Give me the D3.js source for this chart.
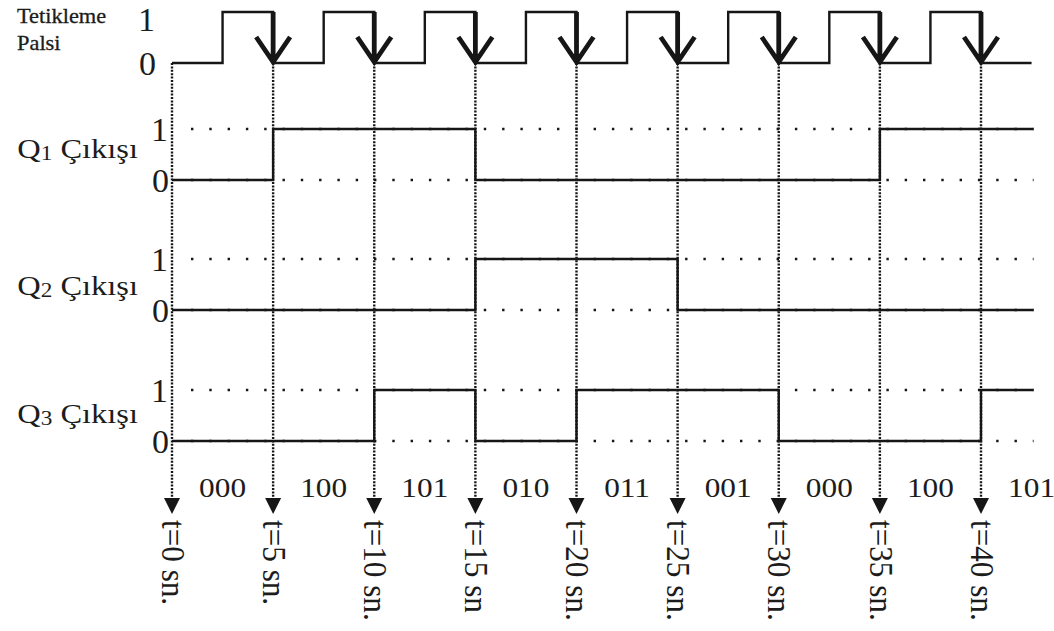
<!DOCTYPE html>
<html>
<head>
<meta charset="utf-8">
<script src="https://cdn.jsdelivr.net/npm/d3@7"></script>
<style>
  html, body { margin: 0; padding: 0; background: #fff; }
  text { font-family: "Liberation Serif", "DejaVu Serif", serif; fill: #1c1c1c; }
</style>
</head>
<body>
<div id="vis"></div>
<script>
// timing values (seconds)
var ticks = [0, 5, 10, 15, 20, 25, 30, 35, 40];
var tickLabels = ["t=0 sn.", "t=5 sn.", "t=10 sn.", "t=15 sn", "t=20 sn.", "t=25 sn.", "t=30 sn.", "t=35 sn.", "t=40 sn."];
var endTime = 42.6;

// trigger pulse, step points
var clockT = [0, 2.5, 5, 7.5, 10, 12.5, 15, 17.5, 20, 22.5, 25, 27.5, 30, 32.5, 35, 37.5, 40, 42.5];
var clockV = [0, 1, 0, 1, 0, 1, 0, 1, 0, 1, 0, 1, 0, 1, 0, 1, 0, 0];
var fallEdges = [5, 10, 15, 20, 25, 30, 35, 40];

// counter state in each 5 s interval (Q1 Q2 Q3)
var states = ["000", "100", "101", "010", "011", "001", "000", "100", "101"];
var stateMid = [2.5, 7.5, 12.5, 17.5, 22.5, 27.5, 32.5, 37.5, 42.5];

var rowNames = ["1", "2", "3"];

var width = 1054, height = 631;
var svg = d3.select("#vis").append("svg")
  .attr("width", width).attr("height", height);

var x = d3.scaleLinear().domain([0, 40]).range([172, 981]);

// layout of rows (pixel positions)
var clockY = d3.scaleLinear().domain([0, 1]).range([63, 12]);
var rowLo = [180, 310, 441];
var rowHi = [129, 259, 390];
var rowLabelShift = [-7, 0, -3];
var arrowEnd = 498;
var stretch = 1.16;

var ink = "#161616";
var step = d3.line().curve(d3.curveStepAfter);

// vertical dotted guides with arrowheads
var guides = svg.append("g");
guides.selectAll("line").data(ticks).enter().append("line")
  .attr("x1", function(d){ return x(d); })
  .attr("x2", function(d){ return x(d); })
  .attr("y1", clockY(0))
  .attr("y2", arrowEnd)
  .attr("stroke", ink)
  .attr("stroke-width", 2.4)
  .attr("stroke-dasharray", "2,1.4");
guides.selectAll("path").data(ticks).enter().append("path")
  .attr("d", function(d){
    var px = x(d);
    return "M" + (px - 8) + "," + arrowEnd + "L" + (px + 8) + "," + arrowEnd + "L" + px + "," + (arrowEnd + 16) + "Z";
  })
  .attr("fill", ink);

// horizontal dotted level guides
rowLo.forEach(function(lo, i){
  [rowHi[i], lo].forEach(function(yy){
    svg.append("line")
      .attr("x1", x(0) + 19).attr("x2", x(endTime))
      .attr("y1", yy).attr("y2", yy)
      .attr("stroke", ink)
      .attr("stroke-width", 2.4)
      .attr("stroke-dasharray", "2.4,15.9");
  });
});

// trigger pulse
var clockPts = clockT.map(function(t, i){ return [x(t), clockY(clockV[i])]; });
svg.append("path")
  .attr("d", step(clockPts))
  .attr("fill", "none")
  .attr("stroke", ink)
  .attr("stroke-width", 2.4);

// falling edge arrows
var arrows = svg.append("g")
  .attr("fill", "none")
  .attr("stroke", ink)
  .attr("stroke-width", 4.8);
arrows.selectAll("path").data(fallEdges).enter().append("path")
  .attr("d", function(d){
    var px = x(d), top = clockY(1), bot = clockY(0);
    return "M" + px + "," + top + "L" + px + "," + (bot - 3) +
      "M" + (px - 17) + "," + (bot - 26) + "L" + px + "," + (bot - 1) + "L" + (px + 17) + "," + (bot - 26);
  })
  .attr("stroke-linejoin", "miter");

// Q outputs
rowNames.forEach(function(name, r){
  var yy = d3.scaleLinear().domain([0, 1]).range([rowLo[r], rowHi[r]]);
  var pts = states.map(function(s, i){ return [x(ticks[i]), yy(+s[r])]; });
  pts.push([x(endTime), yy(+states[states.length - 1][r])]);
  svg.append("path")
    .attr("d", step(pts))
    .attr("fill", "none")
    .attr("stroke", ink)
    .attr("stroke-width", 2.4);

  var mid = (rowLo[r] + rowHi[r]) / 2 + rowLabelShift[r];
  var lab = svg.append("text")
    .attr("text-anchor", "end")
    .attr("font-size", 28)
    .attr("transform", "translate(138," + (mid + 10) + ") scale(" + stretch + ",1)");
  lab.append("tspan").text("Q");
  lab.append("tspan").attr("font-size", 20).attr("dy", 2).text(name);
  lab.append("tspan").attr("dy", -2).text(" Çıkışı");

  svg.append("text").attr("x", 168).attr("y", yy(1) + 12)
    .attr("text-anchor", "end").attr("font-size", 34).text("1");
  svg.append("text").attr("x", 169).attr("y", yy(0) + 12)
    .attr("text-anchor", "end").attr("font-size", 34).text("0");
});

// trigger labels
svg.append("text").attr("x", 155).attr("y", clockY(1) + 19)
  .attr("text-anchor", "end").attr("font-size", 34).text("1");
svg.append("text").attr("x", 156).attr("y", clockY(0) + 12)
  .attr("text-anchor", "end").attr("font-size", 34).text("0");
var tl = svg.append("text")
  .attr("font-size", 20)
  .attr("stroke", "#1c1c1c")
  .attr("stroke-width", 0.3)
  .attr("transform", "translate(17,0) scale(1.12,1)");
tl.append("tspan").attr("x", 0).attr("y", 23).text("Tetikleme");
tl.append("tspan").attr("x", 0).attr("y", 50).text("Palsi");

// state codes
svg.append("g").selectAll("text").data(states).enter().append("text")
  .attr("text-anchor", "middle")
  .attr("font-size", 27)
  .attr("transform", function(d, i){
    return "translate(" + x(stateMid[i]) + ",497) scale(" + stretch + ",1)";
  })
  .text(function(d){ return d; });

// time labels, rotated
svg.append("g").selectAll("text").data(tickLabels).enter().append("text")
  .attr("font-size", 30)
  .attr("dy", "0.36em")
  .attr("transform", function(d, i){
    return "translate(" + (x(ticks[i]) + 2) + ",520) rotate(90) scale(1.04,1.14)";
  })
  .text(function(d){ return d; });
</script>
</body>
</html>
